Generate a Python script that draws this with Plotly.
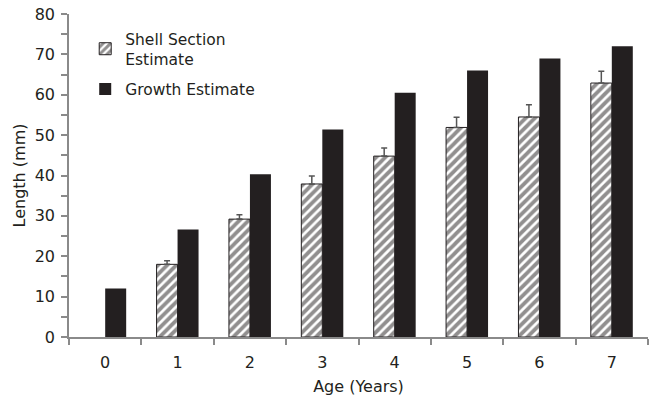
import plotly.graph_objects as go

# Age classes and mean shell length (mm)
ages = ["0", "1", "2", "3", "4", "5", "6", "7"]
shell_section = [None, 18.0, 29.2, 37.9, 44.8, 51.9, 54.5, 62.9]
shell_section_err = [0, 0.9, 1.1, 2.0, 2.0, 2.5, 3.0, 2.9]
growth_estimate = [12.0, 26.6, 40.3, 51.4, 60.5, 66.0, 69.0, 72.0]

ink = "#231f20"
axis_grey = "#8a8a8a"
font_family = "DejaVu Sans"

fig = go.Figure()

fig.add_trace(go.Bar(
    x=ages,
    y=shell_section,
    name="Shell Section<br>Estimate",
    legendgroup="shell",
    marker=dict(
        color="white",
        line=dict(color=ink, width=1),
        pattern=dict(shape="/", fgcolor=ink, bgcolor="white", size=6.5, solidity=0.58),
    ),
    error_y=dict(
        type="data",
        symmetric=False,
        array=shell_section_err,
        arrayminus=[0] * len(ages),
        color="#555555",
        thickness=1.5,
        width=3,
    ),
))

fig.add_trace(go.Bar(
    x=ages,
    y=growth_estimate,
    name="Growth Estimate",
    legendgroup="growth",
    marker=dict(color=ink, line=dict(color=ink, width=0)),
))

fig.update_layout(
    width=652,
    height=406,
    margin=dict(l=69, r=4, t=14, b=69),
    paper_bgcolor="white",
    plot_bgcolor="white",
    barmode="group",
    bargap=0.42,
    bargroupgap=0,
    font=dict(family=font_family, size=16, color=ink),
    legend=dict(
        x=0.028,
        y=0.975,
        xanchor="left",
        yanchor="top",
        bgcolor="rgba(0,0,0,0)",
        font=dict(size=15.5, color=ink),
        itemwidth=30,
        tracegroupgap=7,
        traceorder="grouped",
    ),
    xaxis=dict(
        type="category",
        title=dict(text="Age (Years)", font=dict(size=16), standoff=10),
        showline=True,
        linecolor=axis_grey,
        linewidth=1.5,
        ticks="outside",
        tickson="boundaries",
        ticklen=6,
        tickcolor=axis_grey,
        tickwidth=1.5,
        ticklabelstandoff=10,
        showgrid=False,
        zeroline=False,
        tickfont=dict(size=16),
    ),
    yaxis=dict(
        title=dict(text="Length (mm)", font=dict(size=16), standoff=5),
        range=[0, 80],
        dtick=10,
        showline=True,
        linecolor=axis_grey,
        linewidth=1.5,
        ticks="outside",
        ticklen=6,
        tickcolor=axis_grey,
        tickwidth=1.5,
        ticklabelstandoff=3,
        minor=dict(dtick=5, ticks="outside", ticklen=6, tickcolor=axis_grey, tickwidth=1.5),
        showgrid=False,
        zeroline=False,
        tickfont=dict(size=16),
    ),
)

fig.write_html("out.html")
